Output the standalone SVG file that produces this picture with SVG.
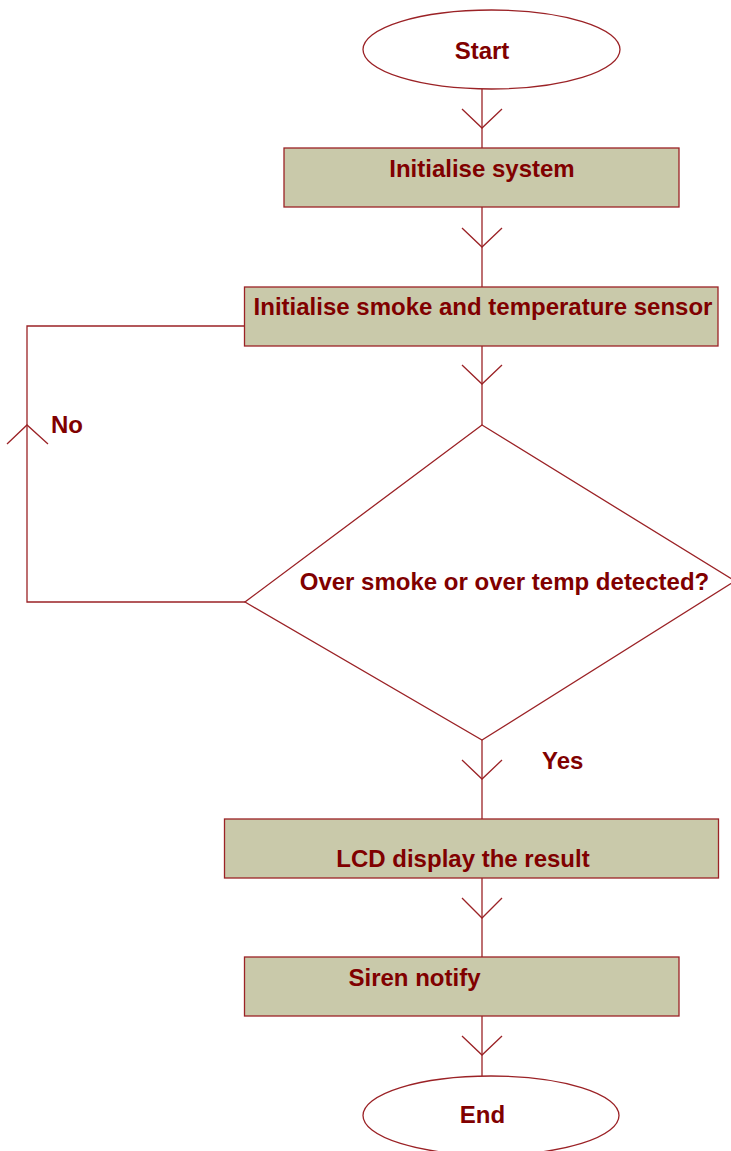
<svg xmlns="http://www.w3.org/2000/svg" width="731" height="1151" viewBox="0 0 731 1151">
<style>
.sh{fill:#ffffff;stroke:#9b2226;stroke-width:1.3}
.box{fill:#c9c9aa;stroke:#9b2226;stroke-width:1.3}
.ln{fill:none;stroke:#9b2226;stroke-width:1.3}
.t{font-family:"Liberation Sans",Arial,sans-serif;font-weight:bold;font-size:24px;fill:#800000}
.m{text-anchor:middle}
</style>
<rect width="731" height="1151" fill="#ffffff"/>
<g id="connectors">
<line class="ln" x1="482" y1="89" x2="482" y2="148"/>
<polyline class="ln" points="462,109 482,128 502,109"/>
<line class="ln" x1="482" y1="207" x2="482" y2="287"/>
<polyline class="ln" points="462,228 482,247 502,228"/>
<line class="ln" x1="482" y1="346" x2="482" y2="425"/>
<polyline class="ln" points="462,365 482,384 502,365"/>
<polyline class="ln" points="245,602 27,602 27,326 245,326"/>
<polyline class="ln" points="7,444 27,425 48,444"/>
<line class="ln" x1="482" y1="740" x2="482" y2="819"/>
<polyline class="ln" points="462,760 482,779 502,760"/>
<line class="ln" x1="482" y1="878" x2="482" y2="957"/>
<polyline class="ln" points="462,898 482,918 502,898"/>
<line class="ln" x1="482" y1="1016" x2="482" y2="1076"/>
<polyline class="ln" points="462,1036 482,1055 502,1036"/>
<text class="t" x="51" y="433">No</text>
<text class="t" x="542" y="769">Yes</text>
</g>
<g id="start">
<ellipse class="sh" cx="491.5" cy="49.5" rx="128.5" ry="39.5"/>
<text class="t m" x="482" y="59">Start</text>
</g>
<g id="init-system">
<rect class="box" x="284" y="148" width="395" height="59"/>
<text class="t m" x="482" y="177">Initialise system</text>
</g>
<g id="init-sensor">
<rect class="box" x="244.5" y="287" width="473.5" height="59"/>
<text class="t m" x="483" y="315">Initialise smoke and temperature sensor</text>
</g>
<g id="decision">
<polygon class="sh" points="482,425 735,581 482,740 245,602"/>
<text class="t m" x="504.5" y="590">Over smoke or over temp detected?</text>
</g>
<g id="lcd">
<rect class="box" x="224.5" y="819" width="494" height="59"/>
<text class="t m" x="463" y="867">LCD display the result</text>
</g>
<g id="siren">
<rect class="box" x="244.5" y="957" width="434.5" height="59"/>
<text class="t m" x="414.5" y="986">Siren notify</text>
</g>
<g id="end">
<ellipse class="sh" cx="491" cy="1115.5" rx="128" ry="39.5"/>
<text class="t m" x="482.5" y="1123">End</text>
</g>
</svg>
